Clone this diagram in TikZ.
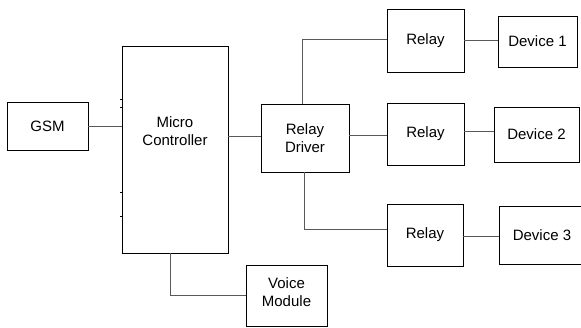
\documentclass[tikz,border=0pt]{standalone}
\usepackage{fontspec}
\setmainfont{Liberation Sans}
\usetikzlibrary{calc}
\begin{document}
\begin{tikzpicture}[x=1pt,y=-1pt,
  txt/.style={font=\fontsize{15}{18}\selectfont,align=center},
  box/.style={draw=black,line width=0.9pt,rectangle,inner sep=0pt,txt},
  lbl/.style={inner sep=0pt,txt},
  wire/.style={draw=black!65,line width=0.9pt}]
\useasboundingbox (0,0) rectangle (581,327);
% boxes
\node[box,minimum width=81pt,minimum height=48pt] (gsm) at (47.5,126) {GSM};
\node[box,minimum width=106pt,minimum height=207pt] (mc) at (175,149.5) {};
\node[lbl] (mct) at (175,131.5) {Micro\\Controller};
\node[box,minimum width=88pt,minimum height=68pt] (rd) at (305,138) {Relay\\Driver};
\node[box,minimum width=81pt,minimum height=61pt] (vm) at (286.5,295.5) {};
\node[lbl] (vmt) at (286.5,292.5) {Voice\\Module};
\node[box,minimum width=77pt,minimum height=63pt] (r1) at (425.5,40.5) {Relay};
\node[box,minimum width=77pt,minimum height=62pt] (r2) at (425.5,134) {Relay};
\node[box,minimum width=76pt,minimum height=62pt] (r3) at (425,235) {Relay};
\node[box,minimum width=79pt,minimum height=51pt] (d1) at (537.5,41.5) {Device 1};
\node[box,minimum width=85pt,minimum height=55pt] (d2) at (536.5,134.5) {Device 2};
% device 3, cut off by the right edge
\draw[line width=0.9pt] (581,206) -- (499,206) -- (499,264) -- (581,264);
\coordinate (d3w) at (499,235);
\node[lbl] (d3) at (542,235) {Device 3};
% small ticks on the left of the micro controller
\foreach \ty in {99,107,192,216}
  \draw[line width=0.7pt] (120,\ty) -- (mc.west |- 0,\ty);
% connectors
\draw[wire] (gsm.east) -- (gsm.east -| mc.west);
\draw[wire] ($(rd.west)+(0,-2)$) -- ($(rd.west -| mc.east)+(0,-2)$);
\draw[wire] ($(mc.south)+(-5,0)$) |- (vm.west);
\draw[wire] ($(rd.north)+(-3,0)$) |- ($(r1.west)+(0,-1.5)$);
\draw[wire] ($(rd.east)+(0,-3)$) -- ($(r2.west)+(0,1)$);
\draw[wire] ($(rd.south)+(-1,0)$) |- ($(r3.west)+(0,-6)$);
\draw[wire] (r1.east) -- (r1.east -| d1.west);
\draw[wire] ($(r2.east)+(0,-3)$) -- ($(r2.east -| d2.west)+(0,-3)$);
\draw[wire] ($(r3.east)+(0,1)$) -- ($(d3w)+(0,1)$);
\end{tikzpicture}
\end{document}
